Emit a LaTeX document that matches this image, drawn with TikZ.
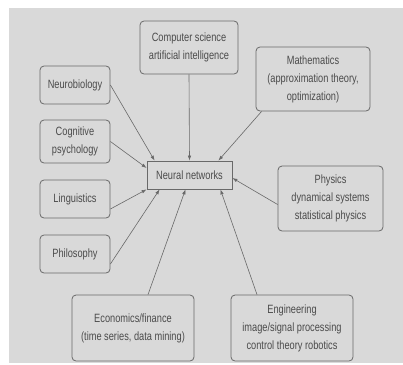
\documentclass[tikz,border=0pt]{standalone}
\usepackage{fontspec}
\setmainfont{Liberation Sans}[FakeStretch=0.77]
\usetikzlibrary{arrows.meta}
\definecolor{bggray}{RGB}{217,217,217}
\definecolor{linegray}{RGB}{105,105,105}
\definecolor{textgray}{RGB}{75,75,75}

\begin{document}
\begin{tikzpicture}[
			x=1pt, y=-1pt,
			field/.style = {draw=linegray, fill=bggray, line width=0.8pt, rounded corners=4pt, align=center, text=textgray, font=\fontsize{12}{18}\selectfont, inner sep=2pt},
			core/.style  = {field, rounded corners=0pt},
			edge/.style  = {-{Latex[length=5pt,width=3.5pt]}, draw=linegray, line width=0.6pt}
			]
			\useasboundingbox (0,0) rectangle (403,364);
			\fill[bggray] (9,8) rectangle (403,363);

			% boxes
			\node[core, minimum width=85pt, minimum height=28pt] (nn) at (189.5,175) {Neural networks};
			\node[field, minimum width=98pt, minimum height=53pt] (cs) at (189,47.5) {Computer science\\artificial intelligence};
			\node[field, minimum width=114pt, minimum height=64pt] (math) at (313,79) {Mathematics\\(approximation theory,\\optimization)};
			\node[field, minimum width=70pt, minimum height=38pt] (neuro) at (75,85) {Neurobiology};
			\node[field, minimum width=70pt, minimum height=43pt] (cog) at (75,141.5) {Cognitive\\psychology};
			\node[field, minimum width=70pt, minimum height=38pt] (ling) at (75,199) {Linguistics};
			\node[field, minimum width=70pt, minimum height=38pt] (phil) at (75,254) {Philosophy};
			\node[field, minimum width=105pt, minimum height=65pt] (phys) at (330.5,198.5) {Physics\\dynamical systems\\statistical physics};
			\node[field, minimum width=122pt, minimum height=66pt] (econ) at (133,328) {Economics/finance\\(time series, data mining)};
			\node[field, minimum width=122pt, minimum height=66pt] (eng) at (292,328) {Engineering\\image/signal processing\\control theory robotics};

			% arrows
			\draw[edge] (neuro.east) -- ([xshift=8pt]nn.north west);
			\draw[edge] (cs.south) -- (nn.north);
			\draw[edge] ([xshift=6pt]math.south west) -- ([xshift=-14pt]nn.north east);
			\draw[edge] (cog.east) -- ([yshift=7pt]nn.west);
			\draw[edge] ([yshift=-10pt]ling.east) -- (nn.south west);
			\draw[edge] ([yshift=-10pt]phil.east) -- ([xshift=13pt]nn.south west);
			\draw[edge] ([xshift=15pt]econ.north) -- ([xshift=-4pt]nn.south);
			\draw[edge] ([xshift=-35pt]eng.north) -- ([xshift=-12pt]nn.south east);
			\draw[edge] ([yshift=-6pt]phys.west) -- ([yshift=-3pt]nn.east);
		\end{tikzpicture}
\end{document}
